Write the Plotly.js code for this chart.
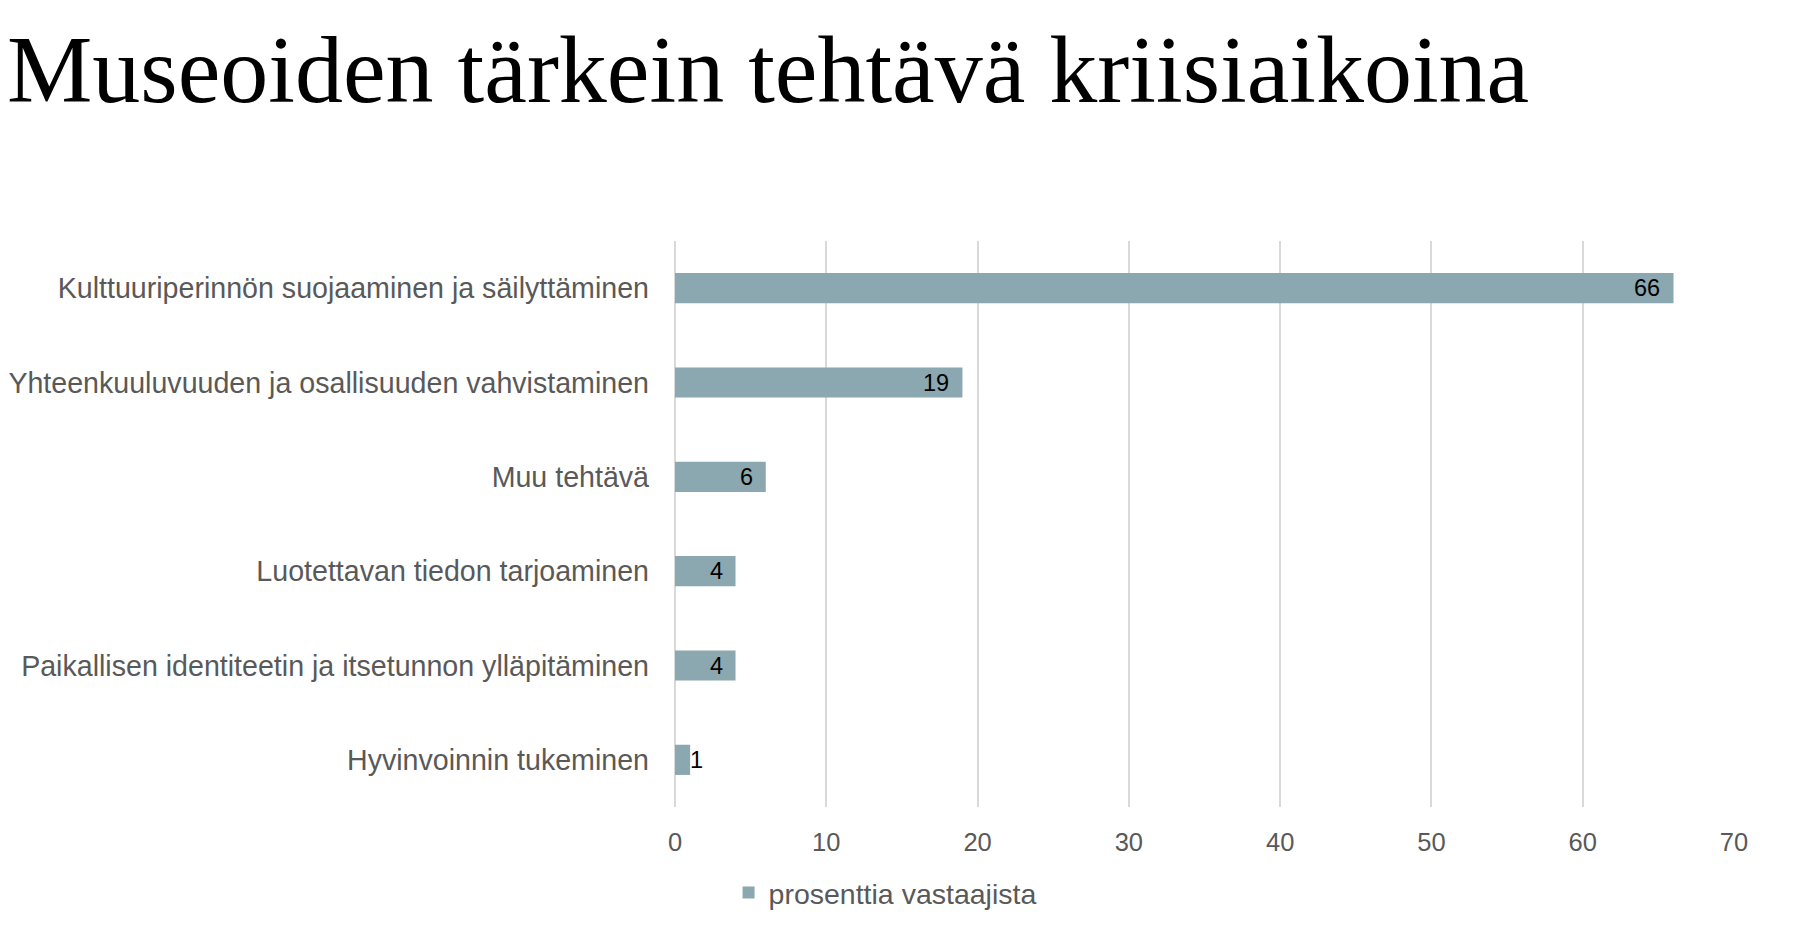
<!DOCTYPE html>
<html>
<head>
<meta charset="utf-8">
<script src="https://cdn.plot.ly/plotly-3.0.1.min.js"></script>
<style>html,body{margin:0;padding:0;background:#fff;}#chart{width:1800px;height:932px;}</style>
</head>
<body>
<div id="chart"></div>
<script>
const chartTitle = "Museoiden tärkein tehtävä kriisiaikoina";
const categories = [
  "Kulttuuriperinnön suojaaminen ja säilyttäminen",
  "Yhteenkuuluvuuden ja osallisuuden vahvistaminen",
  "Muu tehtävä",
  "Luotettavan tiedon tarjoaminen",
  "Paikallisen identiteetin ja itsetunnon ylläpitäminen",
  "Hyvinvoinnin tukeminen"
];
const values = [66, 19, 6, 4, 4, 1];
const seriesName = "prosenttia vastaajista";
const xTicks = [0, 10, 20, 30, 40, 50, 60, 70];

const barColor = "#8ba7b0";
const textGray = "#595959";

const trace = {
  type: "bar",
  orientation: "h",
  x: values,
  y: categories,
  name: seriesName,
  marker: {color: barColor},
  hoverinfo: "x+y",
  showlegend: true
};

const annotations = categories.map((c, i) => {
  const inside = values[i] >= 2;
  return {
    x: values[i], y: c, xref: "x", yref: "y",
    text: String(values[i]),
    showarrow: false,
    xanchor: inside ? "right" : "left",
    xshift: inside ? -11 : -2,
    yanchor: "middle",
    font: {family: "Liberation Sans, Arial, sans-serif", size: 23.5, color: "#000000"}
  };
});

const layout = {
  width: 1800, height: 932,
  paper_bgcolor: "#ffffff", plot_bgcolor: "#ffffff",
  margin: {l: 675, r: 66, t: 241, b: 125},
  title: {
    text: chartTitle,
    font: {family: "Liberation Serif, Times New Roman, serif", size: 96, color: "#000000"},
    xref: "container", yref: "container",
    x: 7/1800, xanchor: "left",
    y: 1 - 68/932, yanchor: "middle",
    automargin: false
  },
  bargap: 0.68,
  xaxis: {
    range: [0, 70],
    tickvals: xTicks,
    ticktext: xTicks.map(String),
    showgrid: true, gridcolor: "#d9d9d9", gridwidth: 2,
    zeroline: true, zerolinecolor: "#d9d9d9", zerolinewidth: 2,
    showline: false, ticks: "",
    ticklabelstandoff: 17,
    tickfont: {family: "Liberation Sans, Arial, sans-serif", size: 25.5, color: textGray},
    fixedrange: true
  },
  yaxis: {
    type: "category",
    autorange: "reversed",
    showgrid: false, zeroline: false, showline: false, ticks: "",
    ticklabelstandoff: 25,
    tickfont: {family: "Liberation Sans, Arial, sans-serif", size: 28.6, color: textGray},
    fixedrange: true
  },
  showlegend: true,
  legend: {
    orientation: "h",
    xref: "container", yref: "container",
    x: 0.4917, xanchor: "center",
    y: 1 - 893/932, yanchor: "middle",
    font: {family: "Liberation Sans, Arial, sans-serif", size: 28.5, color: textGray},
    bgcolor: "rgba(0,0,0,0)"
  },
  annotations: annotations
};

Plotly.newPlot("chart", [trace], layout, {displayModeBar: false, staticPlot: false, responsive: false});
</script>
</body>
</html>
